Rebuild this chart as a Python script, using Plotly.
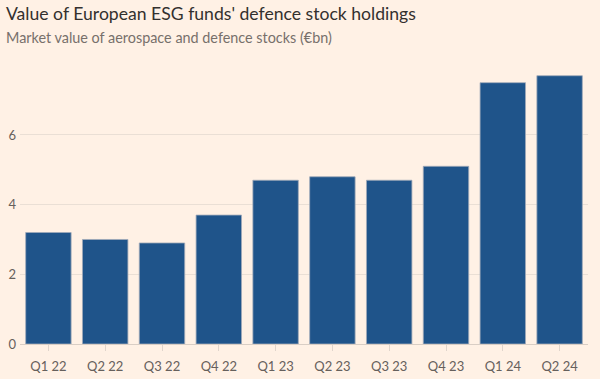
import plotly.graph_objects as go

quarters = ["Q1 22", "Q2 22", "Q3 22", "Q4 22", "Q1 23", "Q2 23", "Q3 23", "Q4 23", "Q1 24", "Q2 24"]
values = [3.2, 3.0, 2.9, 3.7, 4.7, 4.8, 4.7, 5.1, 7.5, 7.7]
y_ticks = [0, 2, 4, 6]

bg = "#FFF1E5"
L, R, T, B = 20, 12, 67, 35
W, H = 600, 379
plot_w = W - L - R
plot_h = H - T - B

fig = go.Figure(go.Bar(
    x=quarters, y=values,
    marker=dict(color="#1f548a", line=dict(color="rgba(160,170,185,0.8)", width=1)),
))

fig.update_layout(
    width=W, height=H,
    paper_bgcolor=bg, plot_bgcolor=bg,
    margin=dict(l=L, r=R, t=T, b=B, autoexpand=False),
    bargap=0.2,
    showlegend=False,
    font=dict(family="Lato, Open Sans, sans-serif", color="#66605c", size=12),
    annotations=[
        dict(text="Value of European ESG funds' defence stock holdings", xref="paper", yref="paper",
             x=-(L - 4) / plot_w, y=1 + (T - 1) / plot_h, xanchor="left", yanchor="top", showarrow=False,
             font=dict(size=17.6, color="#33302e", family="Lato, Open Sans, sans-serif")),
        dict(text="Market value of aerospace and defence stocks (€bn)", xref="paper", yref="paper",
             x=-(L - 4) / plot_w, y=1 + (T - 27) / plot_h, xanchor="left", yanchor="top", showarrow=False,
             font=dict(size=14.4, color="#77706b", family="Lato, Open Sans, sans-serif")),
    ],
)

fig.update_yaxes(
    range=[0, 7.95], tickvals=y_ticks, showgrid=True, gridcolor="#eadfd5", gridwidth=1,
    zeroline=True, zerolinecolor="#d9cec5", zerolinewidth=1, automargin=False,
    ticks="", ticklabelstandoff=3, tickfont=dict(size=13, color="#66605c"),
)
fig.update_xaxes(
    ticks="outside", ticklen=6, tickcolor="#e0d5cc", showline=False, automargin=False,
    ticklabelstandoff=4, tickfont=dict(size=13, color="#66605c"),
)

fig.write_html("out.html", config={"displayModeBar": False},
               post_script="document.body.style.margin='0';document.body.style.background='#FFF1E5';")
